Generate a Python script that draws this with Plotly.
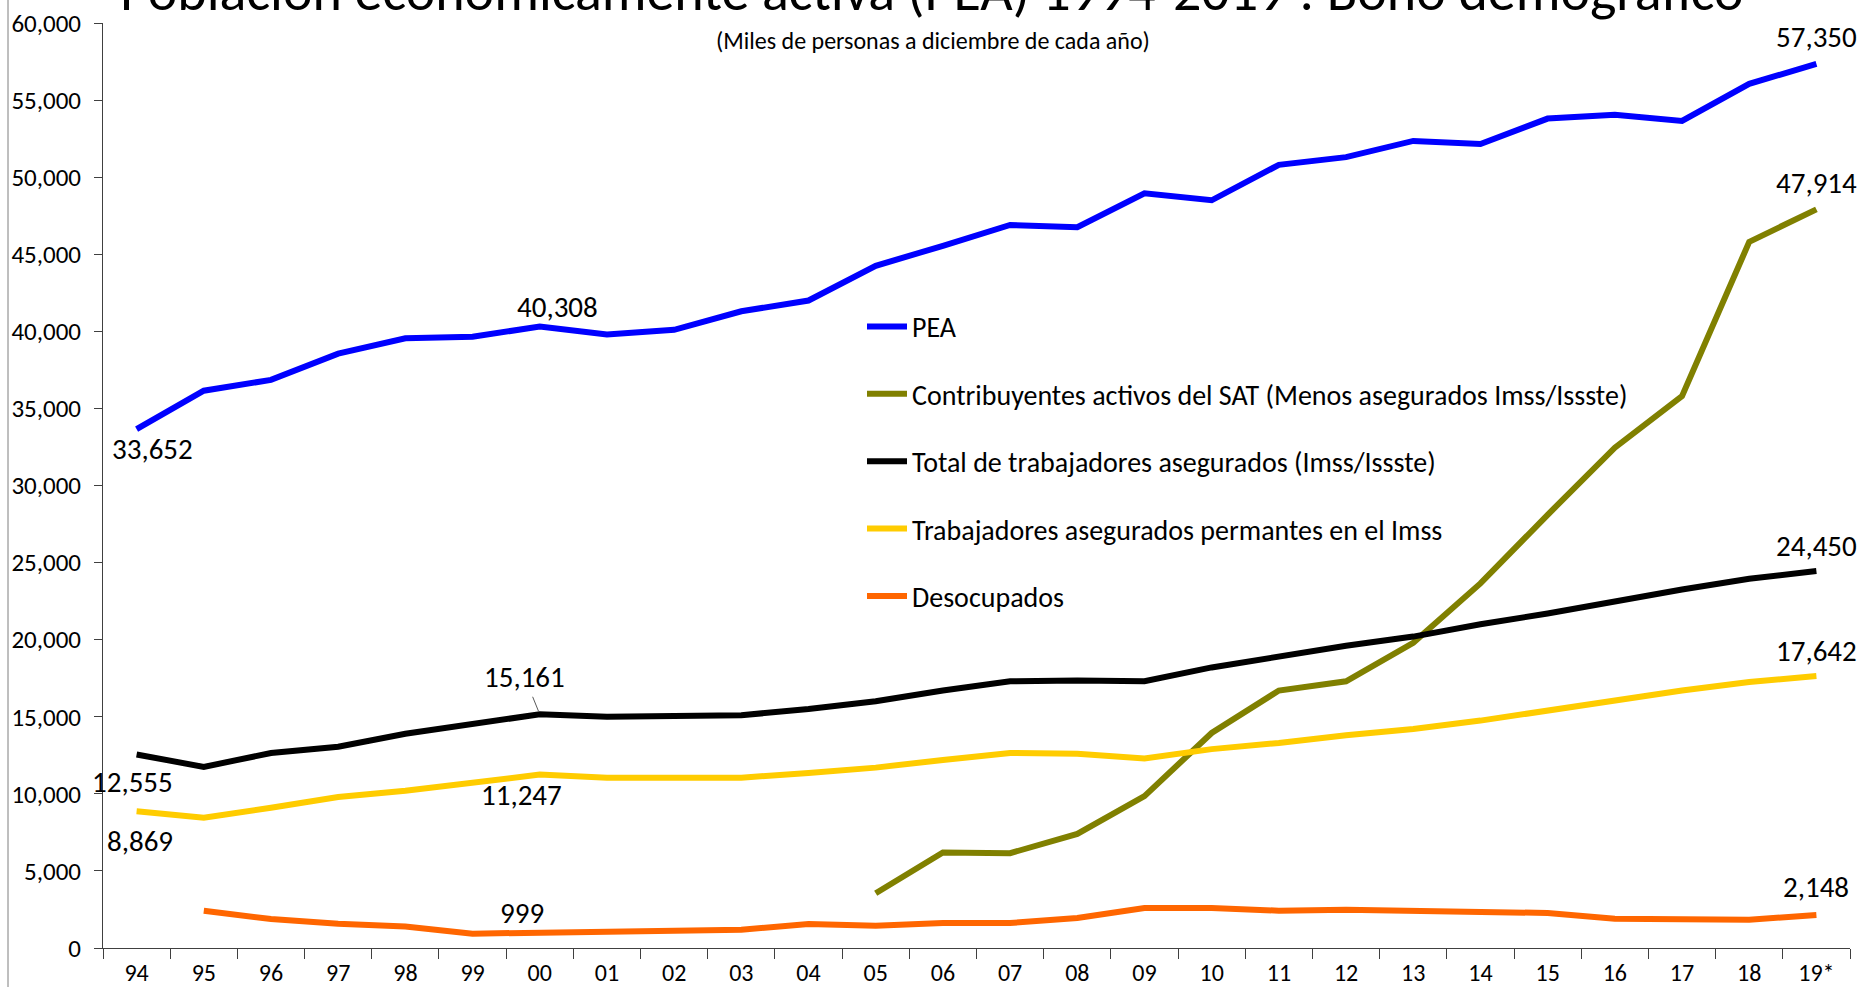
import plotly.graph_objects as go

# ---------------- data ----------------
years = ["94", "95", "96", "97", "98", "99", "00", "01", "02", "03", "04", "05", "06",
         "07", "08", "09", "10", "11", "12", "13", "14", "15", "16", "17", "18", "19*"]

pea = [33652, 36150, 36850, 38550, 39550, 39650, 40308, 39800, 40100, 41300, 42000, 44250, 45550,
       46900, 46750, 48950, 48500, 50800, 51300, 52350, 52150, 53800, 54050, 53650, 56050, 57350]

sat = [None, None, None, None, None, None, None, None, None, None, None, 3550, 6200,
       6150, 7400, 9850, 13950, 16700, 17300, 19800, 23650, 28100, 32450, 35800, 45800, 47914]

asegurados = [12555, 11750, 12650, 13050, 13900, 14550, 15161, 15000, 15050, 15100, 15500, 16000, 16700,
              17300, 17350, 17300, 18200, 18900, 19600, 20200, 21000, 21700, 22500, 23250, 23950, 24450]

permanentes = [8869, 8450, 9100, 9800, 10200, 10700, 11247, 11050, 11050, 11050, 11350, 11700, 12200,
               12650, 12600, 12300, 12900, 13300, 13800, 14200, 14750, 15400, 16000, 16700, 17250, 17642]

desocupados = [None, 2420, 1880, 1575, 1400, 930, 999, 1000, 1120, 1185, 1555, 1445, 1620,
               1620, 1945, 2590, 2590, 2420, 2480, 2420, 2330, 2270, 1900, 1835, 1835, 2148]

series_names = ["PEA",
                "Contribuyentes activos del SAT (Menos asegurados Imss/Issste)",
                "Total de trabajadores asegurados (Imss/Issste)",
                "Trabajadores asegurados permantes en el Imss",
                "Desocupados"]

title_text = "Población económicamente activa (PEA) 1994-2019 : Bono demográfico"
subtitle_text = "(Miles de personas a diciembre de cada año)"

# ---------------- styling ----------------
FONT = "Carlito, Calibri, Liberation Sans Narrow, Lato, sans-serif"
colors = ["#0000FF", "#808000", "#000000", "#FFCC00", "#FF6600"]
all_series = [pea, sat, asegurados, permanentes, desocupados]

fig = go.Figure()
for i, (name, vals, col) in enumerate(zip(series_names, all_series, colors)):
    fig.add_trace(go.Scatter(
        x=years, y=vals, name=name, mode="lines",
        line=dict(color=col, width=6),
        legendgroup=f"g{i}", connectgaps=False,
    ))

# data labels: (series index, category index, xshift, yshift)
label_specs = [
    (0, 0, 16, -20),
    (0, 6, 18, 20),
    (0, 25, 0, 27),
    (1, 25, 0, 26),
    (2, 0, -4, -28),
    (2, 25, 0, 25),
    (3, 0, 3, -30),
    (3, 6, -18, -20),
    (3, 25, 0, 25),
    (4, 6, -18, 20),
    (4, 25, 0, 28),
]
annotations = []
for si, ci, xs, ys in label_specs:
    v = all_series[si][ci]
    annotations.append(dict(
        x=ci, y=v, xref="x", yref="y", text=f"{v:,}",
        showarrow=False, xshift=xs, yshift=ys,
        font=dict(family=FONT, size=29, color="#000000"),
    ))
# label with leader line
v = asegurados[6]
annotations.append(dict(
    x=6, y=v, xref="x", yref="y", text=f"{v:,}",
    showarrow=True, arrowhead=0, arrowwidth=1, arrowcolor="#595959",
    ax=-15, ay=-37, standoff=3,
    font=dict(family=FONT, size=29, color="#000000"),
))

annotations.append(dict(
    x=(932 - 103) / 1747, y=1.035, xref="paper", yref="paper", xanchor="center", yanchor="middle",
    text=title_text, showarrow=False,
    font=dict(family=FONT, size=56, color="#000000"),
))
annotations.append(dict(
    x=(933 - 103) / 1747, y=1 - (41 - 23) / 926, xref="paper", yref="paper",
    xanchor="center", yanchor="middle",
    text=subtitle_text, showarrow=False,
    font=dict(family=FONT, size=24, color="#000000"),
))

fig.update_layout(
    width=1874, height=987,
    margin=dict(l=103, r=24, t=23, b=39, autoexpand=False),
    paper_bgcolor="white", plot_bgcolor="white",
    font=dict(family=FONT, color="#000000"),
    showlegend=True,
    legend=dict(
        x=(862 - 103) / 1747, y=1 - (302 - 23) / 926, xanchor="left", yanchor="top",
        font=dict(family=FONT, size=28, color="#000000"),
        tracegroupgap=28, bgcolor="rgba(0,0,0,0)", itemwidth=40,
    ),
    annotations=annotations,
    shapes=[dict(type="line", xref="paper", yref="paper",
                 x0=(8 - 103) / 1747, x1=(8 - 103) / 1747, y0=-0.1, y1=1.1,
                 line=dict(color="#7f7f7f", width=1))],
)

fig.update_xaxes(
    type="category", range=[-0.5, 25.5], tickson="boundaries",
    ticks="outside", ticklen=10, tickcolor="#404040", tickwidth=1,
    showline=True, linecolor="#404040", linewidth=1,
    showgrid=False, zeroline=False,
    tickfont=dict(family=FONT, size=24, color="#000000"),
    ticklabelstandoff=3,
)
fig.update_yaxes(
    range=[0, 60000], dtick=5000, tickformat=",",
    ticks="outside", ticklen=8, tickcolor="#404040", tickwidth=1,
    showline=True, linecolor="#404040", linewidth=1,
    showgrid=False, zeroline=False,
    tickfont=dict(family=FONT, size=25, color="#000000"),
    ticklabelstandoff=8,
)

fig.write_html("out.html", config={"displayModeBar": False},
               post_script="document.body.style.margin='0';")
